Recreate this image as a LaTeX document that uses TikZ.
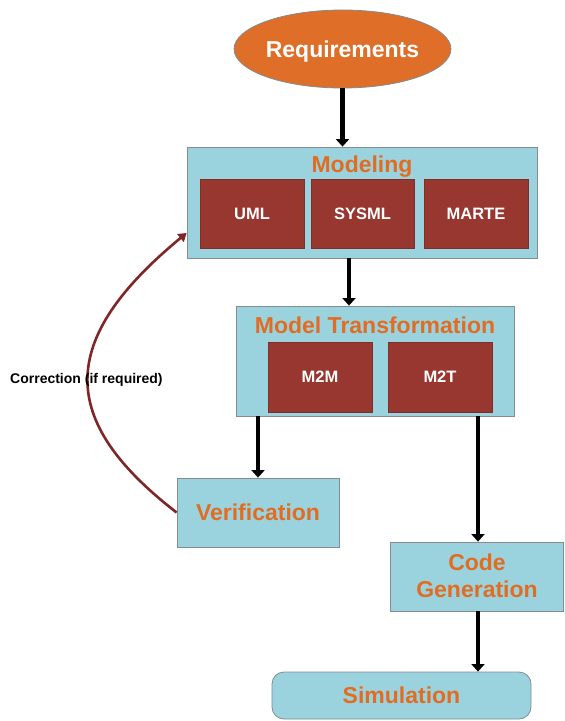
\documentclass[tikz,border=0pt]{standalone}
\usepackage{fontspec}
\setmainfont{Liberation Sans}
\usetikzlibrary{arrows.meta,shapes.geometric}
\definecolor{lblue}{RGB}{154,211,222}
\definecolor{dred}{RGB}{152,54,48}
\definecolor{otext}{RGB}{226,108,34}
\definecolor{ofill}{RGB}{222,110,40}
\definecolor{corr}{RGB}{128,38,38}
\definecolor{edge}{RGB}{130,140,145}
\tikzset{
  bluebox/.style={draw=edge,fill=lblue,line width=0.8pt,inner sep=0pt,rectangle},
  redbox/.style={draw=dred!85!black,fill=dred,line width=0.5pt,inner sep=0pt,rectangle,
     text=white,font=\fontsize{16.5}{18}\selectfont\bfseries,minimum width=104pt,minimum height=69pt,
     text height=11.8pt,text depth=0pt},
  titletext/.style={text=otext,font=\fontsize{23}{27}\selectfont\bfseries,anchor=base,inner sep=0pt},
  bigtext/.style={text=otext,font=\fontsize{23}{27}\selectfont\bfseries,text height=16.5pt,text depth=0pt},
  arr/.style={line width=4.2pt,black,-{Triangle[width=13pt,length=7.5pt]}},
  corrarr/.style={line width=2.6pt,corr,-{Triangle[width=10pt,length=8pt]}}
}
\begin{document}
\begin{tikzpicture}[x=1pt,y=-1pt]
\useasboundingbox (0,0) rectangle (565,721);
% Requirements
\node[ellipse,draw=edge,fill=ofill,line width=0.8pt,minimum width=195pt,minimum height=78pt,inner sep=0pt,
  text=white,font=\fontsize{23}{27}\selectfont\bfseries,text height=16.5pt,text depth=0pt] (req) at (342.5,49) {Requirements};
% Modeling
\node[bluebox,minimum width=350pt,minimum height=111pt] (modeling) at (362,202.5) {};
\node[titletext] (modtitle) at (362,172) {Modeling};
\node[redbox] (uml) at (252,213.5) {UML};
\node[redbox,minimum width=103pt] (sysml) at (362.5,213.5) {SYSML};
\node[redbox] (marte) at (476,213.5) {MARTE};
% Model Transformation
\node[bluebox,minimum width=278pt,minimum height=110pt] (mt) at (375,361) {};
\node[titletext] (mttitle) at (375,333) {Model Transformation};
\node[redbox,minimum height=70pt] (m2m) at (320,377) {M2M};
\node[redbox,minimum height=70pt] (m2t) at (440,377) {M2T};
% Verification
\node[bluebox,bigtext,minimum width=162pt,minimum height=69pt] (ver) at (258,512.5) {Verification};
% Code Generation
\node[bluebox,minimum width=173pt,minimum height=69pt] (cg) at (476.5,576.5) {};
\node[titletext] (cgtext1) at (477,570) {Code};
\node[titletext] (cgtext2) at (477,597) {Generation};
% Simulation
\node[bluebox,bigtext,rounded corners=12pt,minimum width=259pt,minimum height=47pt] (sim) at (401.5,695.5) {Simulation};
% arrows
\draw[arr] (req.south) -- (req.south |- modeling.north);
\draw[arr] ([xshift=-13pt]modeling.south) -- ([xshift=-13pt]modeling.south |- mt.north);
\draw[arr] (ver.north |- mt.south) -- (ver.north);
\draw[arr] ([xshift=1.5pt]cg.north |- mt.south) -- ([xshift=1.5pt]cg.north);
\draw[arr] ([xshift=1.5pt]cg.south) -- ([xshift=1.5pt]cg.south |- sim.north);
% correction
\draw[corrarr] (ver.west) .. controls (57,420) and (57,340) .. ([yshift=-30.5pt]modeling.west);
\node[anchor=base west,inner sep=0pt,font=\fontsize{14}{16}\selectfont\bfseries] (corrlabel) at (10,383) {Correction (if required)};
\end{tikzpicture}
\end{document}
